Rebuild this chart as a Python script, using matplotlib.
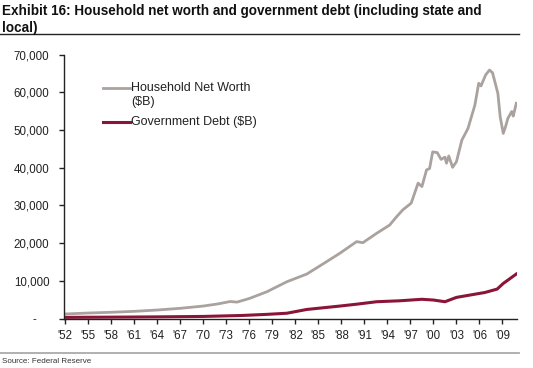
import numpy as np
import matplotlib
matplotlib.use("Agg")
import matplotlib.pyplot as plt
import matplotlib.ticker as ticker
from matplotlib.lines import Line2D

matplotlib.rcParams["font.family"] = "sans-serif"
matplotlib.rcParams["font.sans-serif"] = ["Liberation Sans", "Arial", "DejaVu Sans"]

# household net worth ($B)
hnw_year = [1952.0, 1955.0, 1958.0, 1961.0, 1964.0, 1967.0, 1970.0, 1972.0, 1973.5,
            1974.4, 1976.0, 1978.3, 1980.9, 1983.5, 1986.1, 1987.8, 1990.0, 1990.8,
            1992.6, 1994.3, 1995.2, 1996.0, 1997.1, 1998.0, 1998.5, 1999.1, 1999.5,
            1999.9, 2000.5, 2001.0, 2001.5, 2001.7, 2002.0, 2002.5, 2003.0, 2003.7,
            2004.5, 2005.4, 2005.9, 2006.2, 2006.8, 2007.3, 2007.7, 2008.4, 2008.7,
            2009.1, 2009.4, 2009.7, 2010.2, 2010.4, 2010.8]
hnw = [1200, 1450, 1650, 1900, 2250, 2700, 3300, 3900, 4500,
       4350, 5300, 7100, 9750, 11800, 15100, 17300, 20400, 20100,
       22600, 24800, 27000, 28800, 30600, 35900, 35000, 39400, 39800,
       44200, 44000, 42200, 42800, 41200, 43100, 40100, 41600, 47300,
       50400, 56600, 62400, 61700, 64600, 65900, 65200, 59700, 53500,
       49100, 50900, 53100, 54900, 53700, 57100]

# government debt incl. state and local ($B)
debt_year = [1952.0, 1960.0, 1965.0, 1970.0, 1975.0, 1978.3, 1980.9, 1983.5, 1987.8,
             1990.0, 1992.6, 1995.6, 1998.5, 2000.0, 2001.5, 2003.0, 2004.7, 2006.7,
             2008.3, 2009.1, 2010.8]
debt = [300, 380, 450, 550, 800, 1100, 1400, 2400, 3300,
        3800, 4450, 4700, 5100, 4900, 4450, 5600, 6200, 6900,
        7800, 9300, 11800]

tick_years = np.arange(1952, 2010, 3)
tick_labels = ["'%02d" % (y % 100) for y in tick_years]
y_ticks = np.arange(0, 70001, 10000)

gray = "#aaa29e"
red = "#8a1538"
txt = "#222222"

fig = plt.figure(figsize=(5.33, 3.68), dpi=100)
ax = fig.add_axes([0.120, 0.1345, 0.8494, 0.7171])

ax.plot(hnw_year, hnw, color=gray, lw=2.0, solid_joinstyle="round")
ax.plot(debt_year, debt, color=red, lw=2.2, solid_joinstyle="round")

ax.set_xlim(1951.85, 2010.85)
ax.set_ylim(0, 70000)
ax.set_xticks(tick_years)
ax.set_xticklabels(tick_labels)
ax.set_yticks(y_ticks)
ax.yaxis.set_major_formatter(ticker.FuncFormatter(
    lambda v, p: "-    " if v == 0 else f"{int(v):,}"))

for side in ["top", "right"]:
    ax.spines[side].set_visible(False)
for side in ["left", "bottom"]:
    ax.spines[side].set_linewidth(1.0)
    ax.spines[side].set_color(txt)
ax.tick_params(axis="both", length=3.5, width=1.0, color=txt,
               labelsize=8.3, labelcolor=txt)
ax.tick_params(axis="y", pad=7)
ax.tick_params(axis="x", pad=5)

# legend keys drawn by hand so the grey key sits on the first text line
ax.add_line(Line2D([0.086, 0.146], [0.873, 0.873], transform=ax.transAxes,
                   color=gray, lw=2.0))
ax.add_line(Line2D([0.086, 0.146], [0.7446, 0.7446], transform=ax.transAxes,
                   color=red, lw=2.2))
ax.text(0.148, 0.873, "Household Net Worth", transform=ax.transAxes,
        ha="left", va="center", fontsize=9, color=txt)
ax.text(0.148, 0.820, "($B)", transform=ax.transAxes,
        ha="left", va="center", fontsize=9, color=txt)
ax.text(0.148, 0.7446, "Government Debt ($B)", transform=ax.transAxes,
        ha="left", va="center", fontsize=9, color=txt)

fig.text(0.004, 0.988, "Exhibit 16: Household net worth and government debt (including state and\nlocal)",
         ha="left", va="top", fontsize=9.75, fontweight="bold", linespacing=1.22,
         color="#111111")
fig.add_artist(Line2D([0.0, 0.974], [1 - 33.5 / 368, 1 - 33.5 / 368],
                      transform=fig.transFigure, color=txt, lw=1.0))
fig.add_artist(Line2D([0.0, 0.974], [1 - 352.5 / 368, 1 - 352.5 / 368],
                      transform=fig.transFigure, color="#aaaaaa", lw=1.3))
fig.text(0.004, 1 - 361.5 / 368, "Source: Federal Reserve", ha="left", va="center",
         fontsize=5.8, color="#333333")

fig.savefig("out.png", dpi=100)
